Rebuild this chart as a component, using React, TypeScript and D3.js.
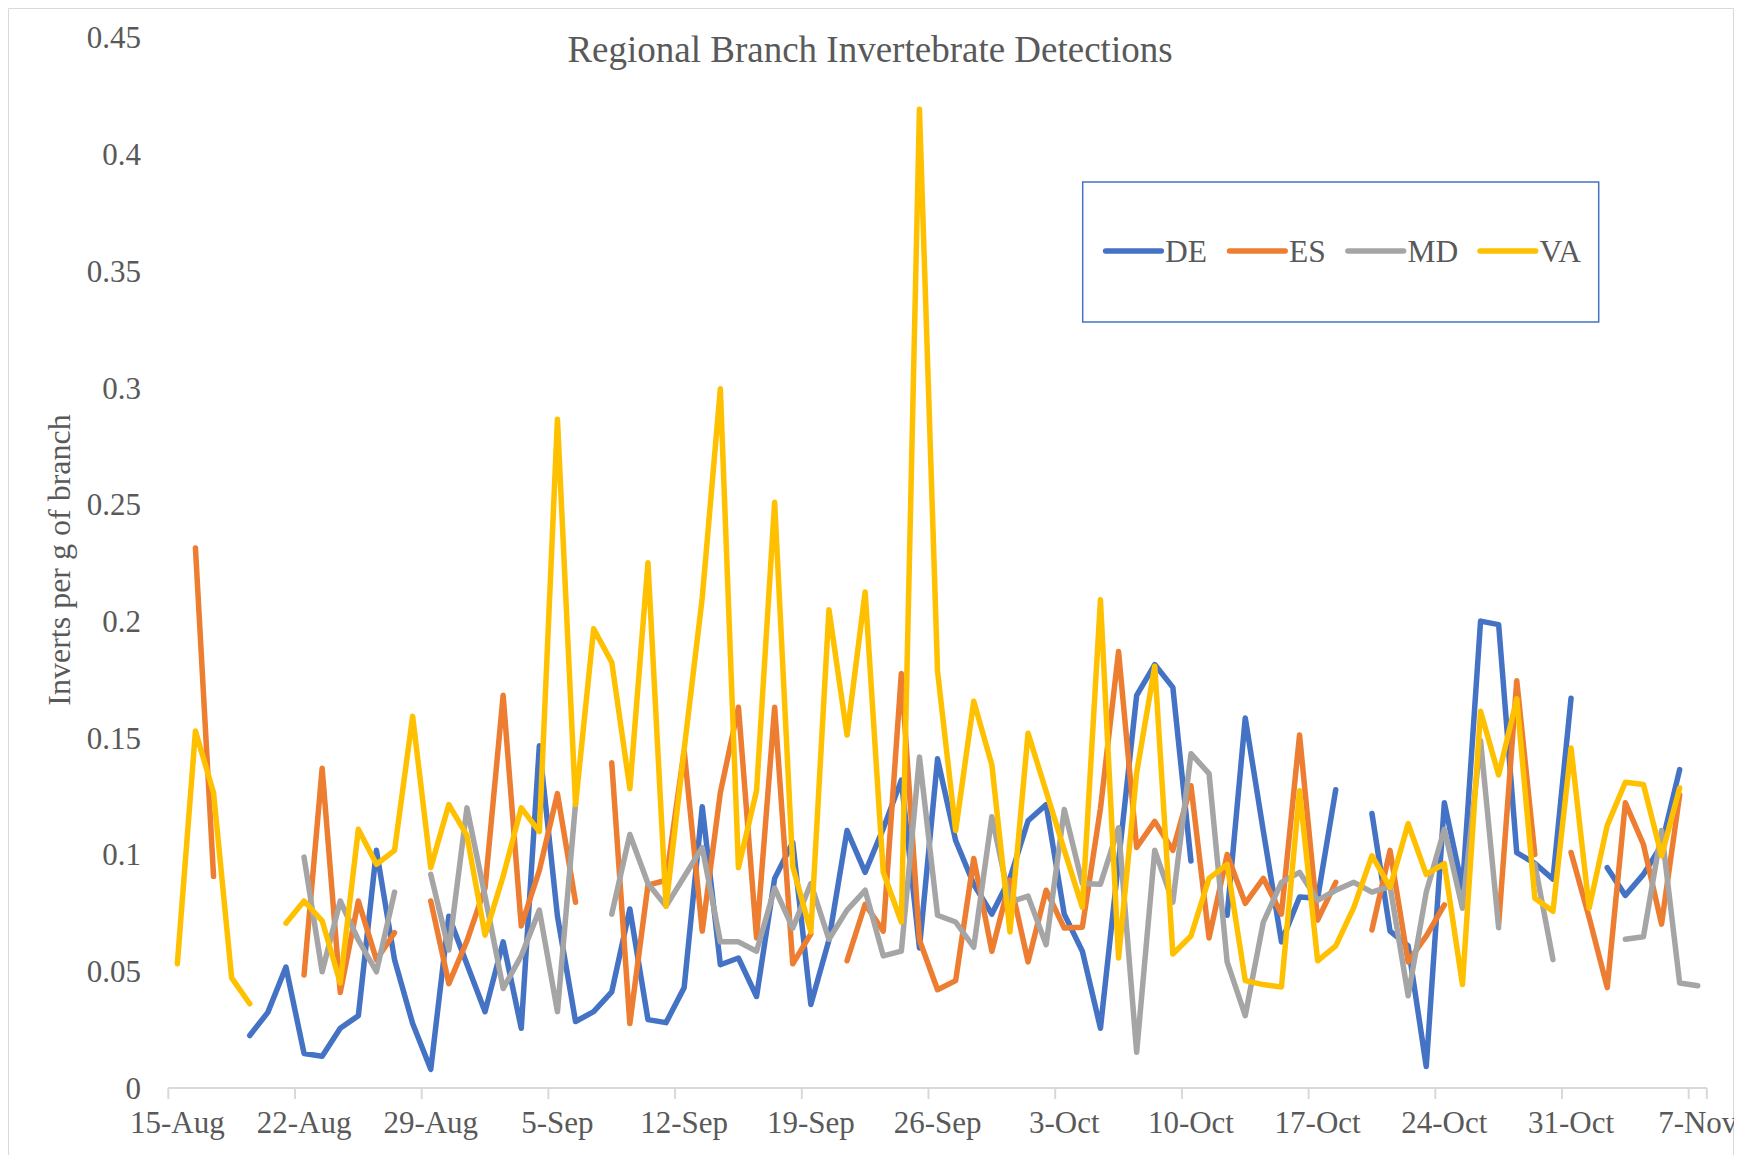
import React from 'react';
import * as d3 from 'd3';

const TICK_LABELS = ['15-Aug', '22-Aug', '29-Aug', '5-Sep', '12-Sep', '19-Sep', '26-Sep', '3-Oct', '10-Oct', '17-Oct', '24-Oct', '31-Oct', '7-Nov'];
const N_DAYS = 85;
const Y_TICKS = [0, 0.05, 0.1, 0.15, 0.2, 0.25, 0.3, 0.35, 0.4, 0.45];

const DE = [null, null, null, null, 0.0225, 0.0324, 0.0518, 0.0148, 0.0136, 0.0256, 0.031, 0.1018, 0.0549, 0.0276, 0.008,
  0.0736, 0.053, 0.0327, 0.0626, 0.0256, 0.1466, 0.0736, 0.0285, 0.0327, 0.0412, 0.0767, 0.0293, 0.028, 0.043,
  0.1205, 0.0528, 0.0557, 0.0392, 0.0898, 0.1052, 0.0358, 0.0634, 0.1103, 0.0924, 0.1111, 0.1319, 0.06, 0.141,
  0.106, 0.0873, 0.0745, 0.0898, 0.1145, 0.1214, 0.0745, 0.0586, 0.0256, 0.097, 0.1682, 0.1814, 0.1716, 0.0972,
  null, 0.074, 0.1585, 0.11, 0.0626, 0.0818, 0.0813, 0.1278, null, 0.1176, 0.0672, 0.0609, 0.0092, 0.1222,
  0.0856, 0.2, 0.1985, 0.1008, 0.0962, 0.0895, 0.167, null, 0.0944, 0.0825, 0.0915, 0.104, 0.1364, null];

const ES = [null, 0.2313, 0.0907, null, null, null, null, 0.0484, 0.137, 0.0409, 0.0801, 0.0549, 0.0665, null, 0.0801,
  0.0447, 0.063, 0.0856, 0.1682, 0.0694, 0.0932, 0.1261, 0.0796, null, 0.1393, 0.0276, 0.0869, 0.089, 0.1445,
  0.0672, 0.1265, 0.1631, 0.0643, 0.1631, 0.0532, 0.066, null, 0.0545, 0.0787, 0.0672, 0.1776, 0.0634, 0.0421,
  0.046, 0.0983, 0.0586, 0.089, 0.054, 0.0847, 0.0685, 0.0689, 0.1197, 0.187, 0.103, 0.1142, 0.1018, 0.1295,
  0.0643, 0.1, 0.0791, 0.0898, 0.0745, 0.1512, 0.0719, 0.0881, null, 0.0677, 0.1018, 0.054, 0.0651, 0.0784,
  null, null, 0.07, 0.1745, 0.1, null, 0.1009, 0.073, 0.043, 0.1222, 0.1043, 0.0702, 0.1256, null];

const MD = [null, null, null, null, null, null, null, 0.0989, 0.0498, 0.0801, 0.0634, 0.0498, 0.0839, null, 0.0915,
  0.0591, 0.12, 0.0822, 0.0426, 0.0566, 0.0762, 0.0327, 0.122, null, 0.0745, 0.1086, 0.0876, 0.0779, 0.0905,
  0.103, 0.0626, 0.0626, 0.0586, 0.0856, 0.0685, 0.0876, 0.0637, 0.0762, 0.0847, 0.0566, 0.0586, 0.1418, 0.074,
  0.0711, 0.0603, 0.1162, 0.0796, 0.0822, 0.0614, 0.1193, 0.0876, 0.0873, 0.1115, 0.0153, 0.1018, 0.0796, 0.1432,
  0.1347, 0.054, 0.031, 0.0711, 0.0881, 0.0924, 0.0804, 0.0847, 0.0881, 0.0839, 0.0864, 0.0395, 0.0839, 0.1108,
  0.077, 0.1488, 0.0686, null, 0.0958, 0.055, null, null, null, 0.0637, 0.0648, 0.1103, 0.045, 0.0438];

const VA = [0.0532, 0.1529, 0.1265, 0.0472, 0.0361, null, 0.0706, 0.0801, 0.0716, 0.045, 0.1108, 0.0958, 0.1018, 0.1592, 0.0944,
  0.1214, 0.1081, 0.0655, 0.0907, 0.12, 0.1098, 0.2865, 0.1214, 0.1967, 0.1824, 0.1282, 0.225, 0.0779, 0.145,
  0.21, 0.2995, 0.0944, 0.1273, 0.2509, 0.0949, 0.0668, 0.2049, 0.1512, 0.2125, 0.0924, 0.0711, 0.4193, 0.1785,
  0.1103, 0.1657, 0.1384, 0.0668, 0.152, 0.127, 0.102, 0.0774, 0.2091, 0.0557, 0.135, 0.1807, 0.0574, 0.0651,
  0.0898, 0.0958, 0.046, 0.0443, 0.0433, 0.1273, 0.0545, 0.0609, 0.0774, 0.0995, 0.0859, 0.1132, 0.0915, 0.0961,
  0.0443, 0.1614, 0.1341, 0.1667, 0.0813, 0.0757, 0.1456, 0.077, 0.1125, 0.131, 0.13, 0.0995, 0.1285, null];

const SERIES_NAMES = ['DE', 'ES', 'MD', 'VA'];
const SERIES_DATA = [DE, ES, MD, VA];
const SERIES_COLORS = ['#4472C4', '#ED7D31', '#A5A5A5', '#FFC000'];

const W = 1726;
const H = 1147;
const FONT = '"Liberation Serif", "Times New Roman", serif';
const TEXT = '#595959';

export default function App() {
  const x = d3.scaleLinear().domain([0, N_DAYS]).range([160.3, 160.3 + N_DAYS * 18.1]);
  const y = d3.scaleLinear().domain([0, 0.45]).range([1080, 29.5]);
  const line = d3.line<number | null>()
    .defined((d) => d != null)
    .x((_, i) => x(i + 0.5))
    .y((d) => y(d as number));

  const tickIdx = TICK_LABELS.map((_, k) => k * 7);
  const legendX = [1097.6, 1221.5, 1339.9, 1472];

  return (
    <svg width={W} height={H} style={{ display: 'block', overflow: 'hidden' }} fontFamily={FONT}>
      <rect x={0} y={0} width={W} height={H} fill="#fff" />
      <path d={`M0.5,${H} V0.5 H${W - 0.5} V${H}`} fill="none" stroke="#D9D9D9" strokeWidth={1} />
      <text x={862} y={54} textAnchor="middle" fontSize={37} fill={TEXT}>Regional Branch Invertebrate Detections</text>

      {Y_TICKS.map((t) => (
        <text key={t} x={133} y={y(t)} dy="0.35em" textAnchor="end" fontSize={31} fill={TEXT}>{String(t)}</text>
      ))}
      <text transform={`translate(51,552) rotate(-90)`} textAnchor="middle" dy="0.35em" fontSize={32} fill={TEXT}>Inverts per g of branch</text>

      <line x1={x(0)} x2={x(N_DAYS)} y1={y(0)} y2={y(0)} stroke="#D9D9D9" strokeWidth={2} />
      {tickIdx.map((i) => (
        <line key={i} x1={x(i)} x2={x(i)} y1={y(0)} y2={y(0) + 11} stroke="#D9D9D9" strokeWidth={2} />
      ))}
      <line x1={x(N_DAYS)} x2={x(N_DAYS)} y1={y(0)} y2={y(0) + 11} stroke="#D9D9D9" strokeWidth={2} />
      {TICK_LABELS.map((lab, k) => (
        <text key={lab} x={x(k * 7 + 0.5)} y={1125} textAnchor="middle" fontSize={31} fill={TEXT}>{lab}</text>
      ))}

      {SERIES_DATA.map((data, s) => (
        <path key={SERIES_NAMES[s]} d={line(data) || ''} fill="none" stroke={SERIES_COLORS[s]} strokeWidth={5.5}
          strokeLinejoin="round" strokeLinecap="round" />
      ))}

      <rect x={1074.7} y={174} width={516} height={140} fill="#fff" stroke="#4472C4" strokeWidth={1.5} />
      {SERIES_NAMES.map((nm, s) => (
        <g key={nm}>
          <line x1={legendX[s]} x2={legendX[s] + 55.7} y1={243} y2={243} stroke={SERIES_COLORS[s]} strokeWidth={5.5} strokeLinecap="round" />
          <text x={legendX[s] + 59.5} y={243} dy="0.35em" fontSize={31.5} fill={TEXT}>{nm}</text>
        </g>
      ))}
    </svg>
  );
}
